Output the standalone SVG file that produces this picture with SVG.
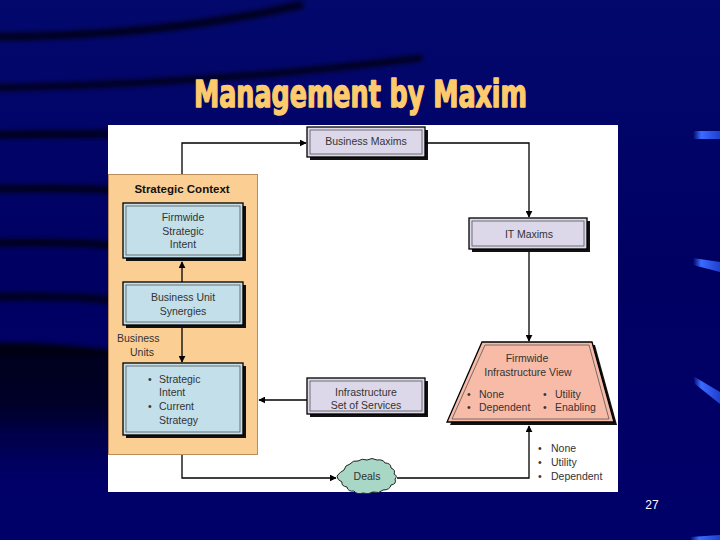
<svg xmlns="http://www.w3.org/2000/svg" width="720" height="540" viewBox="0 0 720 540">
<defs>
<linearGradient id="bg" x1="0" y1="0" x2="0" y2="1">
<stop offset="0" stop-color="#03086c"/>
<stop offset="0.5" stop-color="#000063"/>
<stop offset="1" stop-color="#00006a"/>
</linearGradient>
<linearGradient id="dark" x1="0" y1="0" x2="0" y2="1">
<stop offset="0" stop-color="#000012" stop-opacity="0.95"/>
<stop offset="0.45" stop-color="#000018" stop-opacity="0.8"/>
<stop offset="1" stop-color="#000040" stop-opacity="0"/>
</linearGradient>
<linearGradient id="streak" x1="0" y1="0" x2="1" y2="0">
<stop offset="0" stop-color="#3a6cff" stop-opacity="0"/>
<stop offset="0.3" stop-color="#3a6cff"/>
<stop offset="1" stop-color="#1f3fd0"/>
</linearGradient>
<filter id="blur" x="-10%" y="-50%" width="120%" height="200%"><feGaussianBlur stdDeviation="2.5"/></filter>
<filter id="blur3" x="-10%" y="-10%" width="120%" height="120%"><feGaussianBlur stdDeviation="2"/></filter>
<marker id="ah" viewBox="0 0 10 10" refX="9" refY="5" markerWidth="7" markerHeight="7" orient="auto" markerUnits="userSpaceOnUse">
<path d="M0,0 L10,5 L0,10 Z" fill="#000"/>
</marker>
<style>
.t{font-family:"Liberation Sans",Arial,sans-serif;font-size:10.5px;fill:#333;}
.c{text-anchor:middle;}
.b{font-weight:bold;fill:#111;}
.conn{fill:none;stroke:#000;stroke-width:1.3;marker-end:url(#ah);}
.sh{fill:#111;}
.blue{fill:#c3dfea;stroke:#000;stroke-width:1.3;}
.lav{fill:#dcd8ea;stroke:#000;stroke-width:1.3;}
.inner{fill:none;stroke:#555;stroke-width:0.8;}
</style>
</defs>

<!-- background -->
<rect width="720" height="540" fill="url(#bg)"/>
<g filter="url(#blur)" fill="none" stroke="#000018" stroke-linecap="round">
<path d="M-10,37 C100,36 200,28 300,5" stroke-width="7"/>
<path d="M-10,88 C120,86 260,78 420,58" stroke-width="6"/>
<path d="M-10,135 C40,134 80,134 110,134" stroke-width="7"/>
<path d="M-10,189 C40,188 80,188 110,190" stroke-width="7"/>
<path d="M-10,243 C40,242 80,243 110,245" stroke-width="7"/>
<path d="M-10,297 C40,296 80,297 110,300" stroke-width="7"/>
</g>
<path d="M-5,343 C40,342 80,346 112,350 L112,480 L-5,480 Z" fill="url(#dark)" filter="url(#blur3)"/>
<g>
<path d="M693,131 L720,131 L720,139 L693,139 Z" fill="url(#streak)"/>
<path d="M693,258 L720,262 L720,272 L693,265 Z" fill="url(#streak)"/>
<path d="M693,376 L720,392 L720,404 L695,384 Z" fill="url(#streak)"/>
<path d="M690,537 L720,535 L720,540 L690,540 Z" fill="url(#streak)"/>
</g>

<!-- title -->
<text x="194" y="107" textLength="333" lengthAdjust="spacingAndGlyphs" style="font-family:'DejaVu Sans Condensed','DejaVu Sans',sans-serif;font-weight:bold;font-stretch:condensed;font-size:37px;fill:#fdcb6b;stroke:#fdcb6b;stroke-width:1.4;stroke-linejoin:round;">Management by Maxim</text>

<!-- white panel -->
<rect x="108" y="125" width="510" height="367" fill="#fff"/>

<!-- strategic context -->
<g id="strategic-context">
<rect x="108.5" y="174.5" width="149" height="280" fill="#fbce94" stroke="#b98c5c" stroke-width="1"/>
<text class="t b c" x="182" y="193" style="font-size:11.5px">Strategic Context</text>
<text class="t" x="117" y="342">Business</text>
<text class="t" x="130" y="356">Units</text>
</g>

<g id="firmwide-strategic-intent">
<rect class="sh" x="126" y="206" width="120" height="55"/>
<rect class="blue" x="123" y="203" width="120" height="55"/>
<rect class="inner" x="126" y="206" width="114" height="49"/>
<text class="t c" x="183" y="221">Firmwide</text>
<text class="t c" x="183" y="235">Strategic</text>
<text class="t c" x="183" y="248">Intent</text>
</g>

<g id="business-unit-synergies">
<rect class="sh" x="126" y="285" width="120" height="43"/>
<rect class="blue" x="123" y="282" width="120" height="43"/>
<rect class="inner" x="126" y="285" width="114" height="37"/>
<text class="t c" x="183" y="301">Business Unit</text>
<text class="t c" x="183" y="315">Synergies</text>
</g>

<g id="business-units">
<rect class="sh" x="126" y="366" width="120" height="72"/>
<rect class="blue" x="123" y="363" width="120" height="72"/>
<rect class="inner" x="126" y="366" width="114" height="66"/>
<text class="t" x="148" y="383">•</text>
<text class="t" x="159" y="383">Strategic</text>
<text class="t" x="159" y="396">Intent</text>
<text class="t" x="148" y="410">•</text>
<text class="t" x="159" y="410">Current</text>
<text class="t" x="159" y="424">Strategy</text>
</g>

<g id="business-maxims">
<rect class="sh" x="310" y="130" width="118" height="30"/>
<rect class="lav" x="307" y="127" width="118" height="30"/>
<rect class="inner" x="310" y="130" width="112" height="24"/>
<text class="t c" x="366" y="145">Business Maxims</text>
</g>

<g id="it-maxims">
<rect class="sh" x="472" y="221" width="118" height="31"/>
<rect class="lav" x="469" y="218" width="118" height="31"/>
<rect class="inner" x="472" y="221" width="112" height="25"/>
<text class="t c" x="529" y="238">IT Maxims</text>
</g>

<g id="infrastructure-services">
<rect class="sh" x="310" y="381" width="118" height="36"/>
<rect class="lav" x="307" y="378" width="118" height="36"/>
<rect class="inner" x="310" y="381" width="112" height="30"/>
<text class="t c" x="366" y="396">Infrastructure</text>
<text class="t c" x="366" y="409">Set of Services</text>
</g>

<g id="firmwide-infrastructure-view">
<path d="M485,345 L595,345 L617,425 L450,425 Z" fill="#111"/>
<path d="M482,342 L592,342 L614,422 L447,422 Z" fill="#f8bba8" stroke="#000" stroke-width="1.3"/>
<path d="M485,345 L589,345 L609,419 L452,419 Z" fill="none" stroke="#555" stroke-width="0.8"/>
<text class="t c" x="527" y="362">Firmwide</text>
<text class="t c" x="528" y="376">Infrastructure View</text>
<text class="t" x="467" y="398">•</text>
<text class="t" x="479" y="398">None</text>
<text class="t" x="467" y="411">•</text>
<text class="t" x="479" y="411">Dependent</text>
<text class="t" x="543" y="398">•</text>
<text class="t" x="555" y="398">Utility</text>
<text class="t" x="543" y="411">•</text>
<text class="t" x="555" y="411">Enabling</text>
</g>

<g id="deals">
<path d="M337,476 q3,-4 7,-6 q1,-5 6,-6 q3,-4 8,-3 q4,-3 9,-1 q5,-3 10,0 q6,-1 8,3 q6,0 6,5 q5,2 3,6 q4,2 1,5 q2,5 -4,6 q-1,5 -8,5 q-4,4 -10,2 q-5,3 -10,1 q-6,2 -9,-2 q-6,1 -7,-4 q-6,-1 -5,-5 q-5,-2 -5,-6 Z" fill="#a8d7c6" stroke="#222" stroke-width="1"/>
<text class="t c" x="367" y="480">Deals</text>
</g>

<g id="deal-types">
<text class="t" x="538" y="452">•</text>
<text class="t" x="551" y="452">None</text>
<text class="t" x="538" y="466">•</text>
<text class="t" x="551" y="466">Utility</text>
<text class="t" x="538" y="480">•</text>
<text class="t" x="551" y="480">Dependent</text>
</g>

<g id="connectors">
<path class="conn" d="M182,174 V143 H306"/>
<path class="conn" d="M425,143 H529 V217"/>
<path class="conn" d="M529,252 V341"/>
<path class="conn" d="M307,400 H259"/>
<path class="conn" d="M182,282 V262"/>
<path class="conn" d="M182,328 V362"/>
<path class="conn" d="M182,455 V478 H336"/>
<path class="conn" d="M397,478 H529 V426"/>
</g>

<text x="652" y="509" style="font-family:'Liberation Sans',Arial,sans-serif;font-size:12px;fill:#fff;text-anchor:middle;">27</text>
</svg>
